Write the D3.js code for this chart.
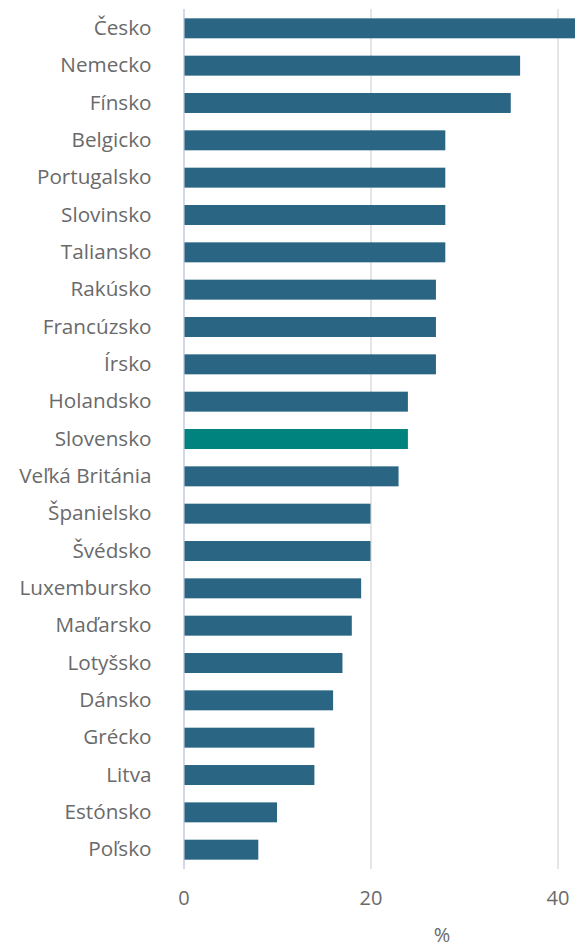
<!DOCTYPE html>
<html lang="sk">

<head>
    <meta charset="UTF-8">
    <script src="https://d3js.org/d3.v7.min.js"></script>
    <title>Graf</title>
    <style>
        body { margin: 0; background: #fff; }
        svg { display: block; font-family: 'Open Sans', sans-serif; }
    </style>
</head>

<body>

    <svg width='575' height='947'></svg>

    <script>
        // krajiny a hodnoty (%)
        let countries = ['Česko', 'Nemecko', 'Fínsko', 'Belgicko', 'Portugalsko', 'Slovinsko', 'Taliansko',
            'Rakúsko', 'Francúzsko', 'Írsko', 'Holandsko', 'Slovensko', 'Veľká Británia', 'Španielsko',
            'Švédsko', 'Luxembursko', 'Maďarsko', 'Lotyšsko', 'Dánsko', 'Grécko', 'Litva', 'Estónsko', 'Poľsko'];
        let values = [42, 36, 35, 28, 28, 28, 28, 27, 27, 27, 24, 24, 23, 20, 20, 19, 18, 17, 16, 14, 14, 10, 8];
        let ticks = [0, 20, 40];
        let highlight = 'Slovensko';

        let svg = d3.select('svg');
        let plotTop = 9, plotBottom = 869;

        let xScale = d3.scaleLinear().domain([0, 40]).range([183.5, 557.5]);
        let yScale = d3.scaleBand().domain(countries).range([plotTop, plotBottom])
            .paddingInner(0.465).paddingOuter(0.25);

        // mriežka + popisy osi x
        let xAxis = svg.append('g')
            .attr('transform', `translate(0,${plotBottom})`)
            .call(d3.axisBottom(xScale).tickValues(ticks).tickSizeInner(-(plotBottom - plotTop)).tickSizeOuter(0).tickPadding(22));
        xAxis.select('.domain').remove();
        xAxis.selectAll('line')
            .attr('stroke', (d) => d === 0 ? '#d3d7ea' : '#dcdcdc')
            .attr('stroke-width', (d) => d === 0 ? 2 : 1.5);
        xAxis.selectAll('text')
            .attr('fill', '#6a6a6a')
            .style('font-size', '20px')
            .style('font-family', 'Open Sans, sans-serif');

        // stĺpce
        svg.selectAll('.bar')
            .data(countries)
            .enter()
            .append('rect')
            .attr('class', 'bar')
            .attr('x', xScale(0) + 1)
            .attr('y', (d) => yScale(d))
            .attr('width', (d, i) => xScale(values[i]) - xScale(0) - 1)
            .attr('height', yScale.bandwidth())
            .attr('fill', (d) => d === highlight ? '#00827f' : '#2b6584');

        // popisy krajín
        let yAxis = svg.append('g')
            .attr('transform', `translate(${xScale(0)},0)`)
            .call(d3.axisLeft(yScale).tickSize(0).tickPadding(32));
        yAxis.select('.domain').remove();
        yAxis.selectAll('text')
            .attr('fill', '#6a6a6a')
            .style('font-size', '20.7px')
            .style('font-family', 'Open Sans, sans-serif');

        svg.append('text')
            .attr('x', 442)
            .attr('y', 942)
            .attr('text-anchor', 'middle')
            .attr('fill', '#6a6a6a')
            .style('font-size', '20px')
            .text('%');
    </script>

</body>

</html>
